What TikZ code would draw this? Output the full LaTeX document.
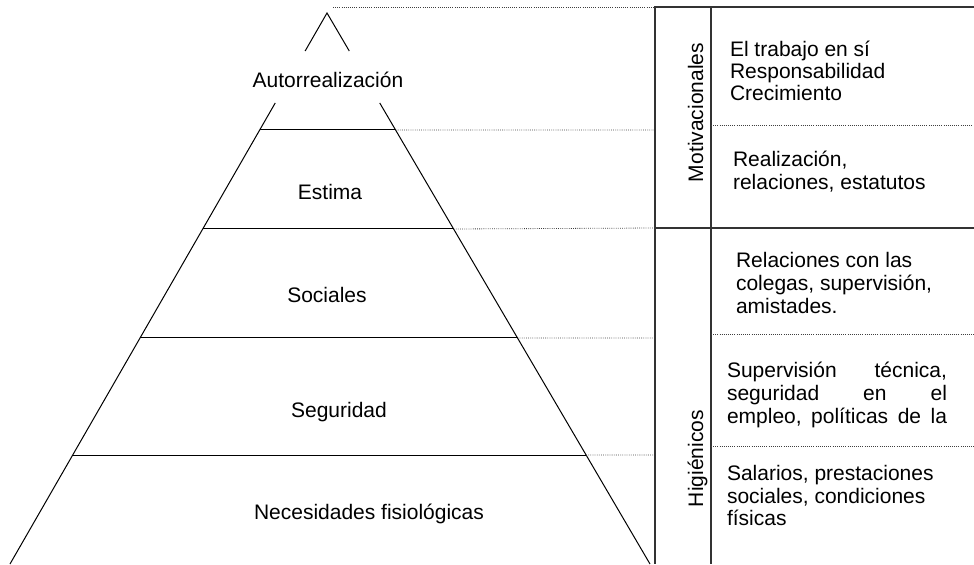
\documentclass[tikz,border=0pt]{standalone}
\usepackage{fontspec}
\setmainfont{Liberation Sans}
\usetikzlibrary{calc}
\begin{document}
\begin{tikzpicture}[x=0.75pt,y=-0.75pt,
  lbl/.style={font=\fontsize{15.75}{17}\selectfont, inner sep=0pt, outer sep=0pt},
  ln/.style={lbl, anchor=base west},
  ctr/.style={lbl, anchor=base},
  side/.style={line width=0.75pt, black},
  level/.style={line width=0.75pt, black},
  dots/.style={line width=0.6pt, densely dotted, black!75},
  frame/.style={line width=1pt, black!80}]
\path[use as bounding box] (0,0) rectangle (974,564);

% pyramid corners
\coordinate (A) at (327,13);
\coordinate (BL) at (10,564);
\coordinate (BR) at (650,564);
% gaps around the top label
\coordinate (Lg1) at ($(A)!0.0690!(BL)$);
\coordinate (Rg1) at ($(A)!0.0690!(BR)$);
\coordinate (Lg2) at ($(A)!0.1633!(BL)$);
\coordinate (Rg2) at ($(A)!0.1633!(BR)$);
% level points
\coordinate (L1) at ($(A)!0.2123!(BL)$); \coordinate (R1) at ($(A)!0.2123!(BR)$);
\coordinate (L2) at ($(A)!0.3920!(BL)$); \coordinate (R2) at ($(A)!0.3920!(BR)$);
\coordinate (L3) at ($(A)!0.5898!(BL)$); \coordinate (R3) at ($(A)!0.5898!(BR)$);
\coordinate (L4) at ($(A)!0.8022!(BL)$); \coordinate (R4) at ($(A)!0.8022!(BR)$);

% table corners
\coordinate (T0) at (655,7);
\coordinate (T1) at (655,130);
\coordinate (T2) at (655,228);
\coordinate (T3) at (655,338);
\coordinate (T4) at (655,455);
\coordinate (TB) at (655,564);
\coordinate (M0) at (711,7);
\coordinate (MB) at (711,564);
\coordinate (E0) at (974,7);
\coordinate (E2) at (974,228);
\coordinate (S1a) at (711,125); \coordinate (S1b) at (972,125);
\coordinate (S3a) at (711,334); \coordinate (S3b) at (974,334);
\coordinate (S4a) at (711,446); \coordinate (S4b) at (974,446);
\coordinate (TopD) at (333,7);

% pyramid sides
\draw[side] (Lg1) -- (A) -- (Rg1);
\draw[side] (Lg2) -- (BL);
\draw[side] (Rg2) -- (BR);

% levels
\draw[level] (L1) -- (R1); \draw[dots] (R1) -- (T1);
\draw[level] (L2) -- (R2); \draw[dots] (R2) -- (T2);
\draw[level] (L3) -- (R3); \draw[dots] (R3) -- (T3);
\draw[level] (L4) -- (R4); \draw[dots] (R4) -- (T4);
\draw[dots] (TopD) -- (T0);

% table frame
\draw[frame] (E0) -- (T0) -- (TB);
\draw[frame] (M0) -- (MB);
\draw[frame] (T2) -- (E2);
\draw[dots] (S1a) -- (S1b);
\draw[dots] (S3a) -- (S3b);
\draw[dots] (S4a) -- (S4b);

% pyramid labels
\node[ctr] (p1) at (328,87) {Autorrealización};
\node[ctr] (p2) at (330,199) {Estima};
\node[ctr] (p3) at (327,302) {Sociales};
\node[ctr] (p4) at (339,417) {Seguridad};
\node[ctr] (p5) at (369,519) {Necesidades fisiológicas};

% category labels
\node[lbl, rotate=90, anchor=base west] (mot) at (703,182) {Motivacionales};
\node[lbl, rotate=90, anchor=base west] (hig) at (703,507) {Higiénicos};

% cells
\node[ln] (a1) at (730,56) {El trabajo en sí};
\node[ln] (a2) at (730,78) {Responsabilidad};
\node[ln] (a3) at (730,100) {Crecimiento};
\node[ln] (b1) at (733,166) {Realización,};
\node[ln] (b2) at (733,189) {relaciones, estatutos};
\node[ln] (c1) at (736,267) {Relaciones con las};
\node[ln] (c2) at (736,290) {colegas, supervisión,};
\node[ln] (c3) at (736,313) {amistades.};
\begin{scope}
\clip (711,335) rectangle (974,428);
\node[ln] (d1) at (727,377) {\hbox to 165pt{Supervisión\hfill técnica,}};
\node[ln] (d2) at (727,400) {\hbox to 165pt{seguridad\hfill en\hfill el}};
\node[ln] (d3) at (727,423) {\hbox to 165pt{empleo,\hfill políticas\hfill de\hfill la}};
\end{scope}
\node[ln] (e1) at (727,480) {Salarios, prestaciones};
\node[ln] (e2) at (727,503) {sociales, condiciones};
\node[ln] (e3) at (727,525) {físicas};
\end{tikzpicture}
\end{document}
